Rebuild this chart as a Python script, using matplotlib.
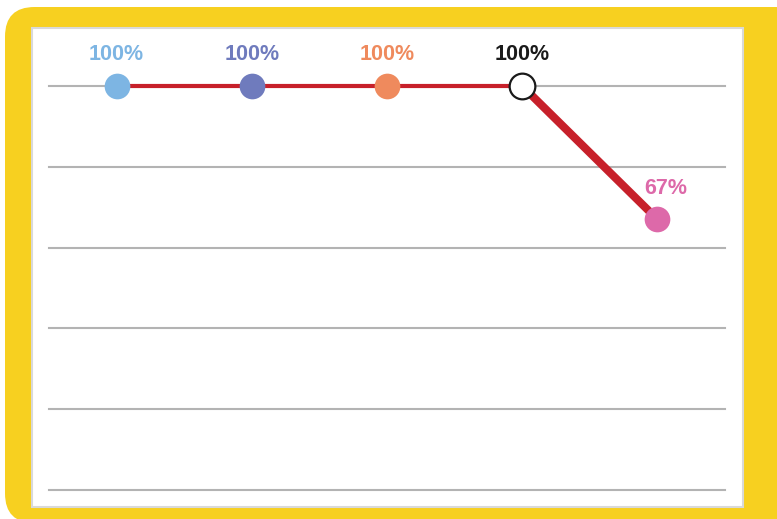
import matplotlib
matplotlib.use('Agg')
import matplotlib.pyplot as plt
from matplotlib.patches import FancyBboxPatch, Rectangle

# Share of the group still at it, step by step
steps = [0, 1, 2, 3, 4]
values = [100, 100, 100, 100, 67]
labels = ['100%', '100%', '100%', '100%', '67%']
dot_colors = ['#7db5e3', '#6f7bbd', '#ef8a5d', '#ffffff', '#dd69a9']
text_colors = ['#7db5e3', '#6f7bbd', '#ef8a5d', '#1a1a1a', '#dd69a9']
grid_levels = [0, 20, 40, 60, 80, 100]

W, H = 777, 519
fig = plt.figure(figsize=(W / 100, H / 100), dpi=100)
fig.patch.set_facecolor('white')


def px(x, y, w, h):
    # pixel box (top-left origin) -> figure fraction
    return x / W, 1 - (y + h) / H, w / W, h / H


# yellow frame running off the right edge
x0, y0, w0, h0 = px(5, 7, 800, 516)
fig.patches.append(FancyBboxPatch((x0, y0), w0, h0,
                                  boxstyle='round,pad=0,rounding_size=0.038',
                                  transform=fig.transFigure, facecolor='#f7d020',
                                  edgecolor='none', mutation_aspect=W / H, zorder=0))
x1, y1, w1, h1 = px(32, 28, 711, 479)
fig.patches.append(Rectangle((x1, y1), w1, h1, transform=fig.transFigure,
                             facecolor='white', edgecolor='#d9d9d9', linewidth=1.5, zorder=1))

# plot area: gridlines span 49..725 px, 0% at y=490, 100% at y=86
top_px = 28
ax = fig.add_axes(px(49, top_px, 676, 490 - top_px))
ax.set_zorder(5)
ax.set_xlim(-0.5, 4.5)
ax.set_ylim(0, 100 * (490 - top_px) / (490 - 86))
ax.patch.set_alpha(0)
for s in ax.spines.values():
    s.set_visible(False)
ax.set_xticks([])
ax.set_yticks([])
for g in grid_levels:
    ax.axhline(g, color='#b3b3b3', linewidth=1.5, zorder=1, clip_on=False)

red = '#c7202a'
ax.plot(steps[:4], values[:4], color=red, linewidth=3, solid_capstyle='butt', zorder=2)
ax.plot(steps[3:], values[3:], color=red, linewidth=5.8, solid_capstyle='butt', zorder=2)

for i, (x, v) in enumerate(zip(steps, values)):
    edge = '#1a1a1a' if dot_colors[i] == '#ffffff' else dot_colors[i]
    ax.plot(x, v, 'o', markersize=18.5, markerfacecolor=dot_colors[i],
            markeredgecolor=edge, markeredgewidth=1.6 if edge == '#1a1a1a' else 0,
            zorder=3, clip_on=False)
    dx = 6 if i == 4 else 0
    ax.annotate(labels[i], (x, v), xytext=(dx, 18.5), textcoords='offset points',
                ha='center', va='baseline', fontsize=15.5, fontweight='bold',
                family='Liberation Sans', color=text_colors[i], zorder=4)

fig.savefig('out.png', dpi=100)
